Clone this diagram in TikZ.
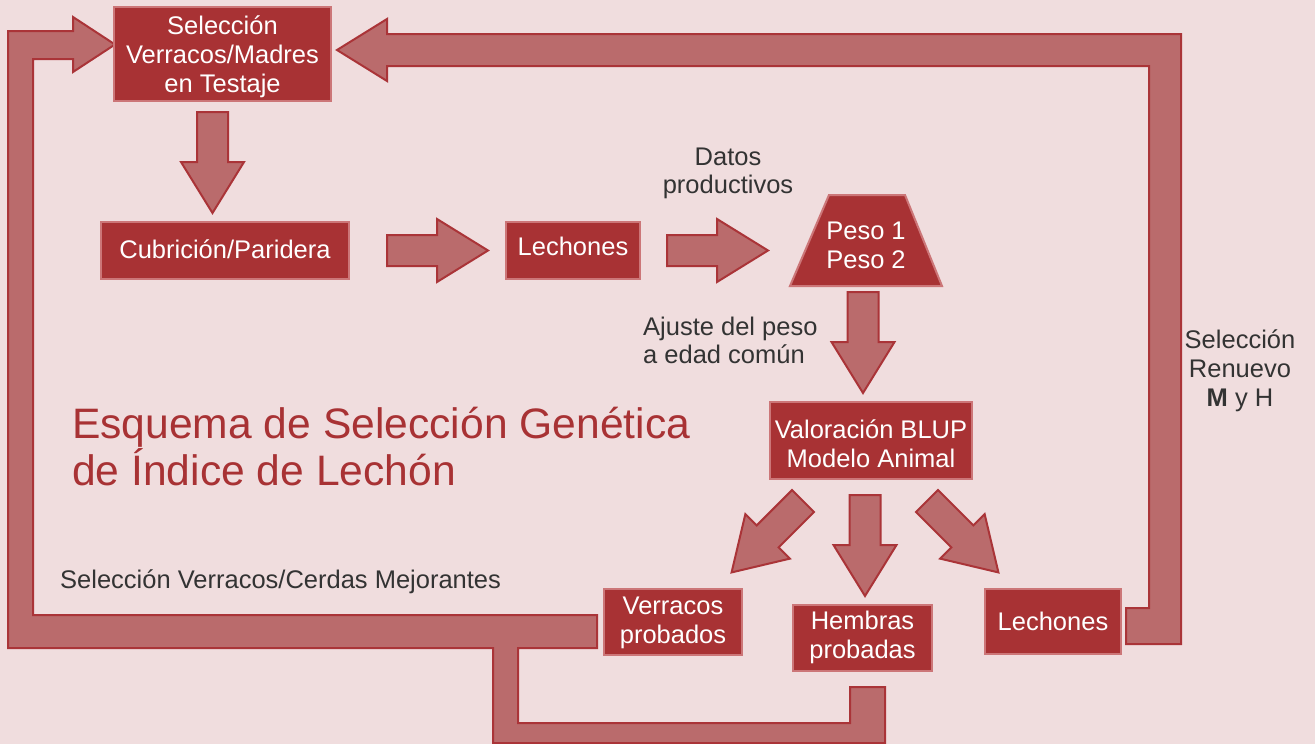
\documentclass[tikz,border=0pt]{standalone}
\usepackage{fontspec}
\setmainfont{Liberation Sans}
\usepackage{xcolor}
\usepackage{tikz}
\usetikzlibrary{positioning,calc}

\definecolor{bgpink}{RGB}{240,221,222}
\definecolor{boxred}{RGB}{168,50,52}
\definecolor{boxedge}{RGB}{204,118,120}
\definecolor{arrowfill}{RGB}{186,107,108}
\definecolor{arrowedge}{RGB}{170,52,56}
\definecolor{inkgray}{RGB}{51,51,51}

% lines of a box, lowered by #1 inside the box
\newcommand{\droptext}[2]{\raisebox{-#1}[\height][\depth]{\begin{tabular}{@{}c@{}}#2\end{tabular}}}

\tikzset{
    stagebox/.style={draw=boxedge, line width=2pt, fill=boxred, text=white,
        font=\fontsize{25.5}{29}\selectfont, align=center, inner sep=0pt},
    blockarrow/.style={draw=arrowedge, line width=2pt, fill=arrowfill, line join=miter},
    note/.style={text=inkgray, font=\fontsize{25.5}{28}\selectfont, align=center, inner sep=0pt}
}

\begin{document}
\begin{tikzpicture}[x=1pt,y=-1pt]
    \useasboundingbox (0,0) rectangle (1315,744);
    \fill[bgpink] (0,0) rectangle (1315,744);

    % Loop of proven boars and sows back to testing
    \draw[blockarrow] (850,687) -- (885,687) -- (885,743) -- (493,743) -- (493,648) -- (8,648)
        -- (8,31) -- (73,31) -- (73,17) -- (115,44.5) -- (73,72) -- (73,59) -- (33,59)
        -- (33,615) -- (597,615) -- (597,648) -- (518,648) -- (518,723) -- (850,723) -- cycle;

    % Loop of replacement stock back to testing
    \draw[blockarrow] (1126,608) -- (1149,608) -- (1149,66) -- (387,66) -- (387,81)
        -- (337,50) -- (387,19) -- (387,34) -- (1181,34) -- (1181,644) -- (1126,644) -- cycle;

    % Stages
    \node[stagebox, minimum width=217, minimum height=94] (seleccion) at (222.5,54) {\droptext{4pt}{Selección\\Verracos/Madres\\en Testaje}};
    \node[stagebox, minimum width=248, minimum height=57] (cubricion) at (225,250.5) {\droptext{2pt}{Cubrición/Paridera}};
    \node[stagebox, minimum width=134, minimum height=57] (lechones) at (573,250.5) {\droptext{-1pt}{Lechones}};
    \draw[draw=boxedge, line width=2pt, fill=boxred] (829,195) -- (905,195) -- (942,286) -- (790,286) -- cycle;
    \coordinate (pesobase) at (866,286);
    \node[stagebox, draw=none, fill=none] (peso) at (866,240.5) {\droptext{8pt}{Peso 1\\Peso 2}};
    \node[stagebox, minimum width=202, minimum height=77] (blup) at (871,440.5) {\droptext{6.5pt}{Valoración BLUP\\Modelo Animal}};
    \node[stagebox, minimum width=138, minimum height=66] (verracos) at (673,622) {\droptext{1pt}{Verracos\\probados}};
    \node[stagebox, minimum width=139, minimum height=66] (hembras) at (862.5,638) {\droptext{0pt}{Hembras\\probadas}};
    \node[stagebox, minimum width=136, minimum height=65] (lechonesb) at (1053,621.5) {\droptext{3pt}{Lechones}};

    % Straight block arrows
    \foreach \from/\dx/\dy/\a in {seleccion.south/-10/10/0, cubricion.east/37/0/90, lechones.east/26/0/90,
        pesobase/-3/6/0, blup.south/-6/15/0, blup.south/-68/21/-45, blup.south/56/21/45} {
        \draw[blockarrow, shift={($(\from)+(\dx,\dy)$)}, rotate=\a]
            (-15.5,0) -- (15.5,0) -- (15.5,50) -- (31.5,50) -- (0,101) -- (-31.5,50) -- (-15.5,50) -- cycle;
    }

    % Labels
    \node[note] (datos) at (728,173) {Datos\\productivos};
    \node[note, anchor=west, align=left] (ajuste) at (643,340) {Ajuste del peso\\a edad común};
    \node[note, anchor=west] (mejorantes) at (60,582) {Selección Verracos/Cerdas Mejorantes};
    \node[note, font=\fontsize{25.5}{29}\selectfont] (renuevo) at (1240,371) {Selección\\Renuevo\\\textbf{M} y H};
    \node[text=boxred, font=\fontsize{42.6}{46.5}\selectfont, anchor=west, align=left, inner sep=0pt] (titulo)
        at (72,446.5) {Esquema de Selección Genética\\de Índice de Lechón};
\end{tikzpicture}
\end{document}
